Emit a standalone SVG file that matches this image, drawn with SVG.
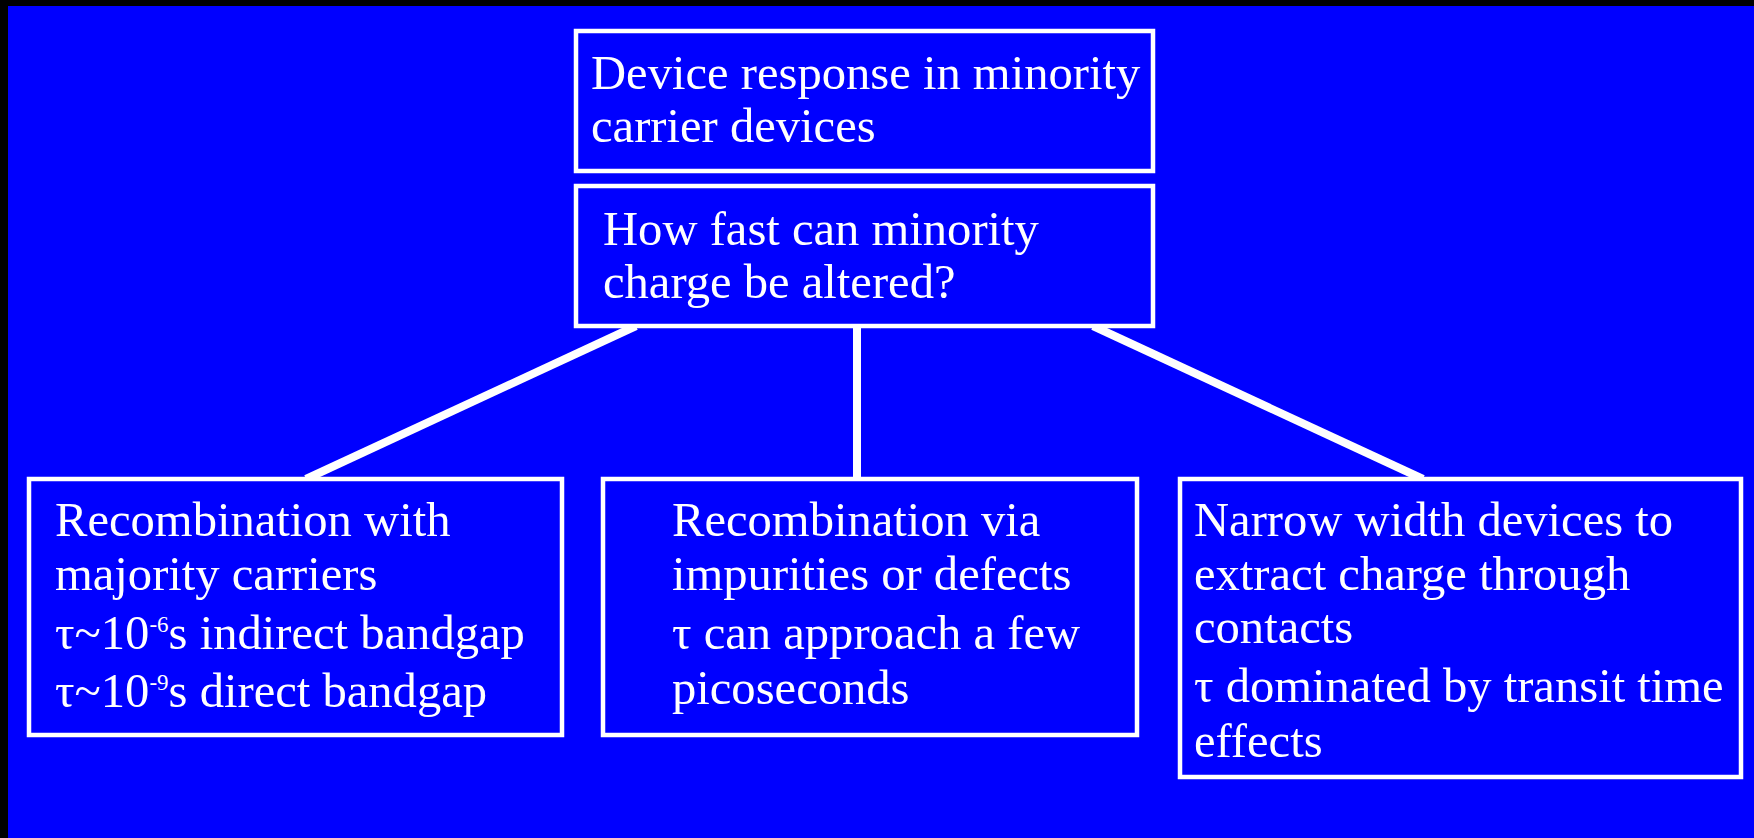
<svg xmlns="http://www.w3.org/2000/svg" width="1754" height="838" viewBox="0 0 1754 838">
<style>
.box{fill:#0000FF;stroke:#FFFFFF;stroke-width:4.5}
.t{font-family:"Liberation Serif","Times New Roman",serif;font-size:48.6px;fill:#FFFFFF}
.sup{font-size:23px}
.conn{stroke:#FFFFFF;stroke-width:8;fill:none}
</style>
<rect x="0" y="0" width="1754" height="838" fill="#000000"/>
<rect x="8" y="6" width="1746" height="832" fill="#0000FF"/>
<g id="connectors">
<line class="conn" x1="636" y1="326" x2="306" y2="479"/>
<line class="conn" x1="857" y1="326" x2="857" y2="479"/>
<line class="conn" x1="1093" y1="326" x2="1423" y2="479"/>
</g>
<g id="node-top">
<rect class="box" x="576" y="31" width="577" height="140"/>
<text class="t" x="591" y="89">Device response in minority</text>
<text class="t" x="591" y="142">carrier devices</text>
</g>
<g id="node-question">
<rect class="box" x="576" y="186" width="577" height="140"/>
<text class="t" x="603" y="245">How fast can minority</text>
<text class="t" x="603" y="298">charge be altered?</text>
</g>
<g id="node-left">
<rect class="box" x="29" y="479" width="533" height="256"/>
<text class="t" x="55" y="536">Recombination with</text>
<text class="t" x="55" y="590">majority carriers</text>
<text class="t" x="55" y="649">τ~10<tspan class="sup" dy="-17">-6</tspan><tspan dy="17">s indirect bandgap</tspan></text>
<text class="t" x="55" y="707">τ~10<tspan class="sup" dy="-17">-9</tspan><tspan dy="17">s direct bandgap</tspan></text>
</g>
<g id="node-middle">
<rect class="box" x="603" y="479" width="534" height="256"/>
<text class="t" x="672" y="536">Recombination via</text>
<text class="t" x="672" y="590">impurities or defects</text>
<text class="t" x="672" y="649">τ can approach a few</text>
<text class="t" x="672" y="704">picoseconds</text>
</g>
<g id="node-right">
<rect class="box" x="1180" y="479" width="561" height="298"/>
<text class="t" x="1194" y="536">Narrow width devices to</text>
<text class="t" x="1194" y="590">extract charge through</text>
<text class="t" x="1194" y="643">contacts</text>
<text class="t" x="1194" y="702">τ dominated by transit time</text>
<text class="t" x="1194" y="757">effects</text>
</g>
</svg>
